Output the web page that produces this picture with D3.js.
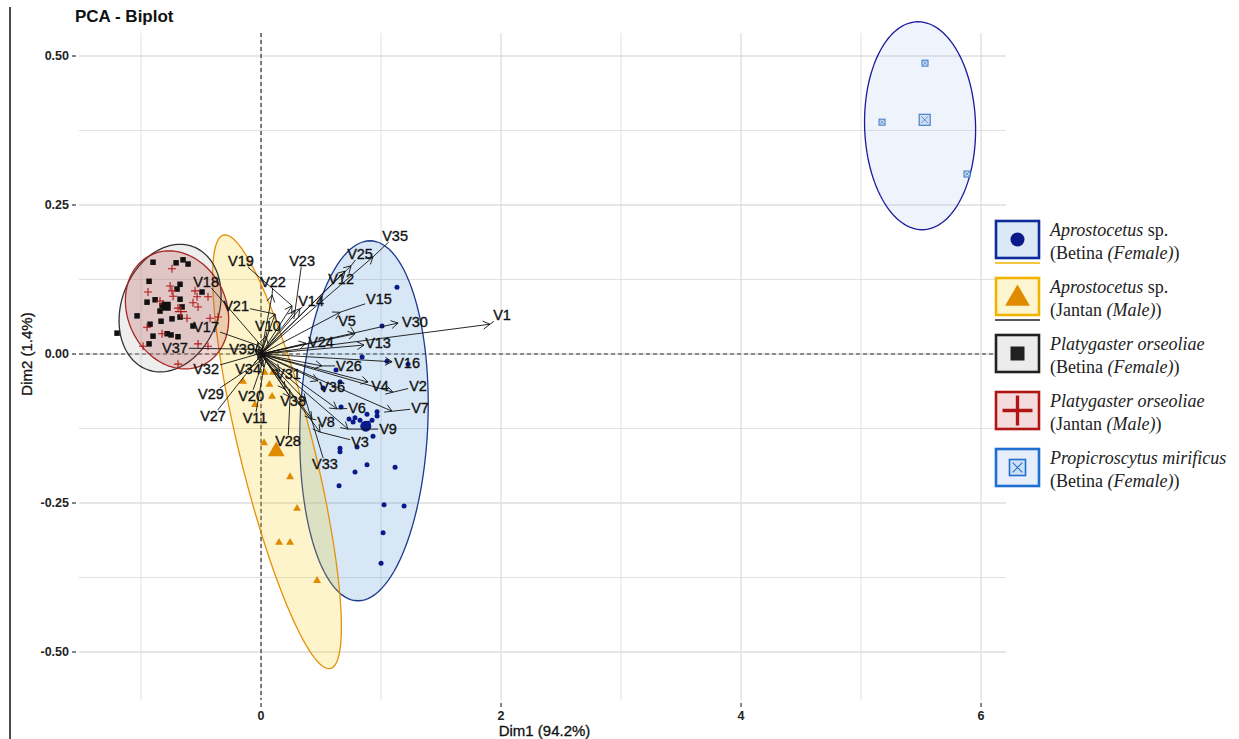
<!DOCTYPE html>
<html lang="en">
<head>
<meta charset="UTF-8">
<title>PCA - Biplot</title>
<script src="https://d3js.org/d3.v7.min.js"></script>
<style>
  body { margin: 0; background: #fff; }
  svg { display: block; }
</style>
</head>
<body>
<div id="chart"></div>
<script>
// ---- individuals (Dim1, Dim2) ----
const aproFemale = [[1.133,0.112],[1.008,0.047],[0.842,-0.005],[1.05,-0.012],[1.225,-0.017],[0.625,-0.027],
  [0.658,-0.047],[0.517,-0.057],[0.667,-0.089],[0.783,-0.107],[0.767,-0.114],[0.825,-0.111],[0.883,-0.101],
  [0.892,-0.116],[0.967,-0.097],[0.967,-0.104],[0.925,-0.111],[0.733,-0.109],[0.933,-0.138],[0.658,-0.158],
  [0.658,-0.164],[0.8,-0.156],[0.883,-0.186],[0.783,-0.198],[1.117,-0.190],[0.65,-0.221],[1.025,-0.253],
  [1.192,-0.255],[1.017,-0.300],[1.0,-0.351]];
const aproMale = [[-0.15,-0.045],[-0.05,-0.084],[0.092,-0.070],[0.025,-0.148],[0.242,-0.205],[0.30,-0.258],
  [0.15,-0.315],[0.242,-0.315],[0.467,-0.379],[0.03,-0.03],[0.07,-0.05],[0.10,-0.03]];
const platyFemale = [[-0.9,0.154],[-0.708,0.153],[-0.65,0.158],[-0.608,0.151],[-0.933,0.122],[-0.675,0.117],
  [-0.7,0.109],[-0.492,0.104],[-0.95,0.087],[-0.883,0.091],[-0.825,0.081],[-0.842,0.072],[-0.658,0.079],
  [-1.033,0.064],[-0.925,0.050],[-0.833,0.055],[-0.742,0.059],[-0.675,0.062],[-0.567,0.047],[-0.783,0.034],
  [-0.9,0.030],[-0.75,0.032],[-0.692,0.029],[-0.933,0.017],[-1.2,0.035],[-0.675,0.092]];
const platyMale = [[-0.742,0.143],[-0.758,0.114],[-0.742,0.106],[-0.942,0.104],[-0.733,0.097],[-0.55,0.106],
  [-0.533,0.096],[-0.442,0.096],[-0.842,0.089],[-0.817,0.084],[-0.692,0.077],[-0.567,0.086],[-0.525,0.079],
  [-0.617,0.060],[-0.95,0.045],[-0.825,0.034],[-0.425,0.060],[-0.358,0.062],[-0.983,0.013],[-0.525,0.017],
  [-0.442,0.013],[-0.692,-0.017]];
const propiFemale = [[5.533,0.488],[5.175,0.389],[5.883,0.302]];

// ellipse per group: centre x, centre y, half width, half height, shear (x shift of the top)
const ellipses = [[0.858,-0.112,0.533,0.302,0.05],[0.133,-0.164,0.317,0.364,-0.433],
  [-0.758,0.077,0.417,0.107,0.083],[-0.70,0.074,0.425,0.099,-0.067],[5.492,0.383,0.4625,0.1745,-0.017]];

// ---- variables: arrow tips and label positions ----
const varNames = d3.range(1, 40).map(i => "V" + i);
const varTips = [[1.908,0.050],[1.10,-0.064],[0.492,-0.131],[0.892,-0.047],[0.783,0.034],[0.633,-0.092],
  [1.092,-0.096],[0.425,-0.109],[0.725,-0.126],[0.042,0.030],[0.025,-0.022],[0.70,0.139],[0.858,0.015],
  [0.325,0.076],[0.658,0.070],[1.092,-0.013],[-0.033,0.015],[-0.025,0.020],[0.258,0.081],[0.008,-0.017],
  [0.117,0.067],[0.092,0.099],[0.283,0.072],[0.375,0.018],[0.75,0.148],[0.508,-0.020],[-0.025,-0.008],
  [0.242,-0.072],[-0.008,-0.012],[1.142,0.052],[0.158,-0.029],[-0.025,0.0],[0.375,-0.079],[-0.008,-0.005],
  [0.933,0.163],[0.475,-0.045],[-0.05,0.008],[0.20,-0.059],[-0.05,0.005]];
const varLabels = [[2.008,0.065],[1.308,-0.054],[0.825,-0.148],[0.992,-0.054],[0.717,0.055],[0.80,-0.091],
  [1.325,-0.091],[0.542,-0.114],[1.058,-0.126],[0.058,0.047],[-0.05,-0.107],[0.667,0.126],[0.975,0.018],
  [0.417,0.089],[0.983,0.092],[1.217,-0.015],[-0.458,0.045],[-0.458,0.121],[-0.167,0.156],[-0.083,-0.070],
  [-0.208,0.081],[0.10,0.121],[0.342,0.156],[0.50,0.020],[0.825,0.168],[0.733,-0.020],[-0.40,-0.104],
  [0.225,-0.146],[-0.417,-0.067],[1.283,0.054],[0.225,-0.034],[-0.458,-0.025],[0.533,-0.185],[-0.108,-0.025],
  [1.117,0.198],[0.592,-0.055],[-0.717,0.010],[0.267,-0.079],[-0.158,0.008]];

// ---- axes ----
const xTicks = [0, 2, 4, 6];
const yTicks = [-0.5, -0.25, 0, 0.25, 0.5];
const yTickLabels = ["-0.50", "-0.25", "0.00", "0.25", "0.50"];
const xGrid = [-1, 0, 1, 2, 3, 4, 5, 6];
const yGrid = [-0.5, -0.375, -0.25, -0.125, 0, 0.125, 0.25, 0.375, 0.5];

// ---- legend text ----
const legendLine1 = [[["Aprostocetus", true], [" sp.", false]], [["Aprostocetus", true], [" sp.", false]],
  [["Platygaster orseoliae", true]], [["Platygaster orseoliae", true]], [["Propicroscytus mirificus", true]]];
const legendLine2 = [[["(Betina ", false], ["(Female)", true], [")", false]], [["(Jantan ", false], ["(Male)", true], [")", false]],
  [["(Betina ", false], ["(Female)", true], [")", false]], [["(Jantan ", false], ["(Male)", true], [")", false]],
  [["(Betina ", false], ["(Female)", true], [")", false]]];

const groups = [aproFemale, aproMale, platyFemale, platyMale, propiFemale];
const shapes = ["circle", "triangle", "square", "plus", "squareCross"];
const pointColor = ["#0a1a8a", "#e08a00", "#111111", "#b01818", "#3b77c6"];
const ellStroke = ["#1c3a8e", "#e6900a", "#333333", "#a82424", "#1a1a9e"];
const ellFill = ["#4a93d2", "#f5cd10", "#b0b0b0", "#b83c3c", "#b4c8ef"];
const keyFill = ["#dbe8f6", "#fdf5d0", "#ececec", "#f5dcdc", "#e5eefa"];
const keyStroke = ["#0c2a9a", "#f2b400", "#222222", "#b01515", "#1f6fd0"];

const W = 1239, H = 739;
const pLeft = 79, pRight = 1006, pTop = 33, pBottom = 700;

const svg = d3.select("#chart").append("svg").attr("width", W).attr("height", H);

const x = d3.scaleLinear().domain([-1.517, 6.208]).range([pLeft, pRight]);
const y = d3.scaleLinear().domain([-0.5805, 0.5386]).range([pBottom, pTop]);

// page edge line
svg.append("line").attr("x1", 10).attr("x2", 10).attr("y1", 7).attr("y2", H)
  .attr("stroke", "#111").attr("stroke-width", 1.5);

// grid
svg.append("g").selectAll("line").data(xGrid).join("line")
  .attr("x1", d => x(d)).attr("x2", d => x(d)).attr("y1", pTop).attr("y2", pBottom)
  .attr("stroke", "#dedede").attr("stroke-width", d => d % 2 === 0 ? 1.3 : 0.9);
svg.append("g").selectAll("line").data(yGrid).join("line")
  .attr("x1", pLeft).attr("x2", pRight).attr("y1", d => y(d)).attr("y2", d => y(d))
  .attr("stroke", "#dedede").attr("stroke-width", d => Math.abs(d * 4 % 1) < 1e-6 ? 1.6 : 0.9);

// ticks + labels
const axisFont = "'Liberation Sans', Arial, sans-serif";
svg.append("g").selectAll("line").data(yTicks).join("line")
  .attr("x1", pLeft - 7).attr("x2", pLeft - 3).attr("y1", d => y(d)).attr("y2", d => y(d))
  .attr("stroke", "#333").attr("stroke-width", 1.2);
svg.append("g").selectAll("text").data(yTicks).join("text")
  .attr("x", pLeft - 10).attr("y", d => y(d)).attr("dy", "0.35em")
  .attr("text-anchor", "end").style("font", "bold 12.5px " + axisFont).attr("fill", "#222")
  .text((d, i) => yTickLabels[i]);
svg.append("g").selectAll("line").data(xTicks).join("line")
  .attr("x1", d => x(d)).attr("x2", d => x(d)).attr("y1", pBottom + 3).attr("y2", pBottom + 7)
  .attr("stroke", "#333").attr("stroke-width", 1.2);
svg.append("g").selectAll("text").data(xTicks).join("text")
  .attr("x", d => x(d)).attr("y", pBottom + 20)
  .attr("text-anchor", "middle").style("font", "bold 12.5px " + axisFont).attr("fill", "#222")
  .text(d => d);

svg.append("text").attr("x", (pLeft + pRight) / 2 + 2).attr("y", 736).attr("text-anchor", "middle")
  .style("font", "15px " + axisFont).attr("fill", "#111").attr("stroke", "#111").attr("stroke-width", 0.3)
  .text("Dim1 (94.2%)");
svg.append("text").attr("transform", `translate(32,${y(0)}) rotate(-90)`).attr("text-anchor", "middle")
  .style("font", "15px " + axisFont).attr("fill", "#111").attr("stroke", "#111").attr("stroke-width", 0.3)
  .text("Dim2 (1.4%)");
svg.append("text").attr("x", 75).attr("y", 22)
  .style("font", "bold 17px " + axisFont).attr("fill", "#111").text("PCA - Biplot");

// zero lines
svg.append("line").attr("x1", pLeft).attr("x2", pRight).attr("y1", y(0)).attr("y2", y(0))
  .attr("stroke", "#333").attr("stroke-width", 1.2).attr("stroke-dasharray", "4,3");
svg.append("line").attr("x1", x(0)).attr("x2", x(0)).attr("y1", pTop).attr("y2", pBottom)
  .attr("stroke", "#333").attr("stroke-width", 1.2).attr("stroke-dasharray", "4,3");

// ellipses
const ellLine = d3.line().x(p => x(p[0])).y(p => y(p[1])).curve(d3.curveLinearClosed);
const tSteps = d3.range(0, 120).map(i => i / 120 * 2 * Math.PI);
svg.append("g").selectAll("path").data(ellipses).join("path")
  .attr("d", e => ellLine(tSteps.map(t => [e[0] + e[2] * Math.cos(t) + e[4] * Math.sin(t), e[1] + e[3] * Math.sin(t)])))
  .attr("fill", (e, i) => ellFill[i]).attr("fill-opacity", 0.22)
  .attr("stroke", (e, i) => ellStroke[i]).attr("stroke-width", 1.3);

// point symbols
function drawShape(g, shape, cx, cy, s, color) {
  if (shape === "circle") {
    g.append("circle").attr("cx", cx).attr("cy", cy).attr("r", s * 0.5).attr("fill", color);
  } else if (shape === "triangle") {
    g.append("path").attr("transform", `translate(${cx},${cy + s * 0.1})`)
      .attr("d", d3.symbol(d3.symbolTriangle, s * s * 0.55)()).attr("fill", color);
  } else if (shape === "square") {
    g.append("rect").attr("x", cx - s / 2).attr("y", cy - s / 2).attr("width", s).attr("height", s).attr("fill", color);
  } else if (shape === "plus") {
    g.append("path").attr("d", `M${cx - s / 2},${cy}H${cx + s / 2}M${cx},${cy - s / 2}V${cy + s / 2}`)
      .attr("stroke", color).attr("stroke-width", Math.max(1.1, s / 9)).attr("fill", "none");
  } else {
    const h = s / 2;
    g.append("rect").attr("x", cx - h).attr("y", cy - h).attr("width", s).attr("height", s)
      .attr("fill", "#cfe0f5").attr("stroke", color).attr("stroke-width", Math.max(1, s / 10));
    g.append("path").attr("d", `M${cx - h * 0.6},${cy - h * 0.6}L${cx + h * 0.6},${cy + h * 0.6}M${cx + h * 0.6},${cy - h * 0.6}L${cx - h * 0.6},${cy + h * 0.6}`)
      .attr("stroke", color).attr("stroke-width", Math.max(0.7, s / 14));
  }
}
const pointSize = [5, 7, 5.5, 8, 6];
const meanSize = [11, 15, 9, 12, 11];
const gPts = svg.append("g");
groups.forEach((pts, gi) => {
  pts.forEach(p => drawShape(gPts, shapes[gi], x(p[0]), y(p[1]), pointSize[gi], pointColor[gi]));
});
groups.forEach((pts, gi) => {
  const mx = d3.mean(pts, p => p[0]), my = d3.mean(pts, p => p[1]);
  drawShape(gPts, shapes[gi], x(mx), y(my), meanSize[gi], pointColor[gi]);
});

// arrows
const gArr = svg.append("g").attr("stroke", "#111").attr("fill", "none").attr("stroke-width", 0.9);
const ox = x(0), oy = y(0);
varTips.forEach(tp => {
  const tx = x(tp[0]), ty = y(tp[1]);
  const a = Math.atan2(ty - oy, tx - ox), L = 8;
  gArr.append("line").attr("x1", ox).attr("y1", oy).attr("x2", tx).attr("y2", ty);
  gArr.append("path").attr("d",
    `M${tx - L * Math.cos(a - Math.PI / 6)},${ty - L * Math.sin(a - Math.PI / 6)}L${tx},${ty}L${tx - L * Math.cos(a + Math.PI / 6)},${ty - L * Math.sin(a + Math.PI / 6)}`);
});

// labels, with leader segments like ggrepel
const gLead = svg.append("g").attr("stroke", "#111").attr("stroke-width", 0.9);
const gLab = svg.append("g");
varNames.forEach((name, i) => {
  const lx = x(varLabels[i][0]), ly = y(varLabels[i][1]);
  const t = gLab.append("text").attr("x", lx).attr("y", ly).attr("dy", "0.35em").attr("text-anchor", "middle")
    .style("font", "14.5px " + axisFont).attr("fill", "#111").attr("stroke", "#111").attr("stroke-width", 0.35)
    .text(name);
  const bb = t.node().getBBox();
  const hw = bb.width / 2 + 1, hh = 6;
  const tx = x(varTips[i][0]), ty = y(varTips[i][1]);
  const dx = tx - lx, dy = ty - ly;
  const k = Math.min(Math.abs(dx) > 0 ? hw / Math.abs(dx) : Infinity, Math.abs(dy) > 0 ? hh / Math.abs(dy) : Infinity);
  if (k < 0.8) {
    gLead.append("line").attr("x1", lx + dx * k).attr("y1", ly + dy * k).attr("x2", tx).attr("y2", ty);
  }
});

// legend
const keyTop = [221, 278, 335, 392, 449];
const kx = 996, kw = 43, kh = 37;
const gLeg = svg.append("g");
keyTop.forEach((ky, i) => {
  gLeg.append("rect").attr("x", kx).attr("y", ky).attr("width", kw).attr("height", kh)
    .attr("fill", keyFill[i]).attr("stroke", keyStroke[i]).attr("stroke-width", 2.6);
  if (i < 2) {
    gLeg.append("line").attr("x1", kx - 1).attr("x2", kx + kw + 1).attr("y1", ky + kh + 5).attr("y2", ky + kh + 5)
      .attr("stroke", keyStroke[i + 1]).attr("stroke-width", 1.6);
  }
  const s = [14, 22, 14, 30, 16][i];
  drawShape(gLeg, shapes[i], kx + kw / 2, ky + kh / 2, s, [pointColor[0], pointColor[1], "#222", "#b01515", "#1f6fd0"][i]);
  [legendLine1[i], legendLine2[i]].forEach((parts, li) => {
    const tt = gLeg.append("text").attr("x", 1050).attr("y", ky + 15 + li * 23)
      .style("font-family", "'Liberation Serif', 'Times New Roman', serif").style("font-size", "18px").attr("fill", "#222");
    parts.forEach(p => tt.append("tspan").attr("font-style", p[1] ? "italic" : "normal").text(p[0]));
  });
});
</script>
</body>
</html>
